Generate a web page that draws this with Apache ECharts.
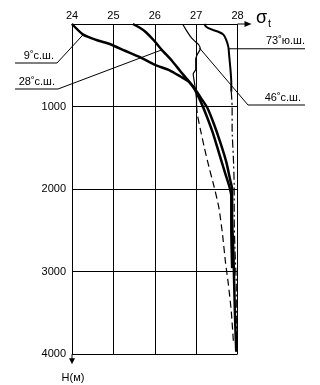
<!DOCTYPE html>
<html><head><meta charset="utf-8">
<script src="https://cdn.jsdelivr.net/npm/echarts/dist/echarts.min.js"></script>
<style>html,body{margin:0;padding:0;background:#fff}#c{width:320px;height:385px}</style>
</head><body><div id="c"></div>
<script>
// sigma-t ticks and depth ticks
const sigmaTicks = [24, 25, 26, 27, 28];
const depthTicks = [0, 1000, 2000, 3000, 4000];

// 9° N
const n9Sigma = [24.00,24.27,24.59,24.94,25.28,25.63,26.01,26.36,26.62,26.83,26.99,27.13,27.27,27.43,27.59,27.73,27.83,27.87,27.87,27.90,27.92,27.94,27.97];
const n9Depth = [0,129,194,248,324,399,496,561,636,701,798,906,1015,1211,1442,1673,1904,1996,2356,2756,3154,3549,3970];
// 28° N
const n28Sigma = [25.47,25.63,25.78,25.97,26.17,26.41,26.62,26.80,26.96,27.10,27.24,27.41,27.55,27.69,27.80,27.85,27.85,27.87];
const n28Depth = [0,43,97,194,313,442,572,680,787,928,1096,1327,1558,1789,1962,2089,2489,2956];
// 46° N (upper, solid) and (deep, dashed)
const n46Sigma = [26.67,26.75,26.86,26.96,27.06,27.10,27.03,26.99,26.99,26.93,26.96,26.99,27.01,27.01];
const n46Depth = [0,65,151,205,248,302,367,421,550,604,712,820,928,992];
const n46DeepSigma = [27.01,27.03,27.10,27.20,27.31,27.43,27.55,27.64,27.71,27.78,27.85,27.90];
const n46DeepDepth = [992,1096,1269,1500,1731,1962,2223,2556,2889,3154,3483,3839];
// 73° S (upper, solid) and (deep, dash-dot)
const s73Sigma = [27.20,27.24,27.31,27.43,27.55,27.66,27.73,27.78,27.80,27.83,27.85,27.85];
const s73Depth = [0,32,54,76,97,129,194,280,388,550,712,820];
const s73DeepSigma = [27.85,27.87,27.87,27.90,27.92,27.92,27.94,27.97,27.97,27.99];
const s73DeepDepth = [820,1003,1270,1617,1962,2356,2756,3154,3549,3970];

const labels = ['9˚с.ш.', '28˚с.ш.', '46˚с.ш.', '73˚ю.ш.'];

function pairs(xs, ys) { return xs.map((x, i) => [x, ys[i]]); }
const FONT = 'Liberation Sans, Arial, sans-serif';

const chart = echarts.init(document.getElementById('c'), null, {renderer: 'canvas'});
function line(name, xs, ys, width, type) {
  return {
    name: name, type: 'line', data: pairs(xs, ys), showSymbol: false, symbol: 'none',
    smooth: 0.2, silent: true,
    lineStyle: {color: '#000', width: width, type: type || 'solid'}
  };
}
chart.setOption({
  animation: false,
  backgroundColor: '#fff',
  grid: {left: 72, top: 24, width: 165.5, height: 330.3},
  xAxis: {
    type: 'value', position: 'top', min: sigmaTicks[0], max: sigmaTicks[sigmaTicks.length - 1], interval: 1,
    axisLine: {show: true, onZero: false, lineStyle: {color: '#000', width: 1}},
    axisTick: {show: false},
    axisLabel: {color: '#000', fontFamily: FONT, fontSize: 11, margin: 3},
    splitLine: {show: true, lineStyle: {color: '#000', width: 1}}
  },
  yAxis: {
    type: 'value', inverse: true, min: depthTicks[0], max: depthTicks[depthTicks.length - 1], interval: 1000,
    axisLine: {show: true, onZero: false, lineStyle: {color: '#000', width: 1}},
    axisTick: {show: false},
    axisLabel: {color: '#000', fontFamily: FONT, fontSize: 11, margin: 6,
      formatter: v => (v === 0 ? '' : String(v))},
    splitLine: {show: true, lineStyle: {color: '#000', width: 1}}
  },
  series: [
    line(labels[0], n9Sigma, n9Depth, 2.5),
    line(labels[1], n28Sigma, n28Depth, 2.5),
    line(labels[2], n46Sigma, n46Depth, 1.2),
    line(labels[2] + ' deep', n46DeepSigma, n46DeepDepth, 1.2, [7, 4]),
    line(labels[3], s73Sigma, s73Depth, 2),
    line(labels[3] + ' deep', s73DeepSigma, s73DeepDepth, 1.2, [8, 3, 2, 3])
  ]
});

const px = p => chart.convertToPixel({gridIndex: 0}, p);
const a9 = px([24.27, 129]);
const a28 = px([26.17, 313]);
const a46 = px([27.08, 290]);
const a73 = px([27.785, 300]);
const axTop = px([28, 0]);
const axBottom = px([24, 4000]);
const stroke = {stroke: '#000', lineWidth: 1};
const txt = (x, y, t, size, align) => ({type: 'text', x: x, y: y, style: {text: t, fill: '#000', font: (size || 11) + 'px ' + FONT, textAlign: align || 'left', textVerticalAlign: 'bottom'}});

chart.setOption({
  graphic: [
    // axis arrow to the right (sigma-t)
    {type: 'line', shape: {x1: axTop[0], y1: axTop[1], x2: axTop[0] + 10, y2: axTop[1]}, style: stroke},
    {type: 'polygon', shape: {points: [[axTop[0] + 14, axTop[1]], [axTop[0] + 7, axTop[1] - 3], [axTop[0] + 7, axTop[1] + 3]]}, style: {fill: '#000'}},
    {type: 'text', x: 256, y: 9, style: {text: 'σ', fill: '#000', font: '18px ' + FONT}},
    {type: 'text', x: 268, y: 18, style: {text: 't', fill: '#000', font: '11px ' + FONT}},
    // depth arrow down
    {type: 'line', shape: {x1: axBottom[0], y1: axBottom[1], x2: axBottom[0], y2: axBottom[1] + 6}, style: stroke},
    {type: 'polygon', shape: {points: [[axBottom[0], axBottom[1] + 10], [axBottom[0] - 3, axBottom[1] + 4], [axBottom[0] + 3, axBottom[1] + 4]]}, style: {fill: '#000'}},
    txt(axBottom[0] + 1, 383, 'H(м)', 11, 'center'),
    // 9 N
    {type: 'polyline', shape: {points: [[15, 63], [57, 63], a9]}, style: stroke},
    txt(54, 61, labels[0], 11, 'right'),
    // 28 N
    {type: 'polyline', shape: {points: [[15, 89], [58, 89], a28]}, style: stroke},
    txt(55, 87, labels[1], 11, 'right'),
    // 46 N
    {type: 'polyline', shape: {points: [a46, [248, 105], [305, 105]]}, style: stroke},
    txt(301, 103, labels[2], 11, 'right'),
    // 73 S
    {type: 'line', shape: {x1: a73[0], y1: a73[1], x2: 305, y2: a73[1]}, style: stroke},
    txt(305, a73[1] - 2, labels[3], 11, 'right')
  ]
});
</script>
</body></html>
